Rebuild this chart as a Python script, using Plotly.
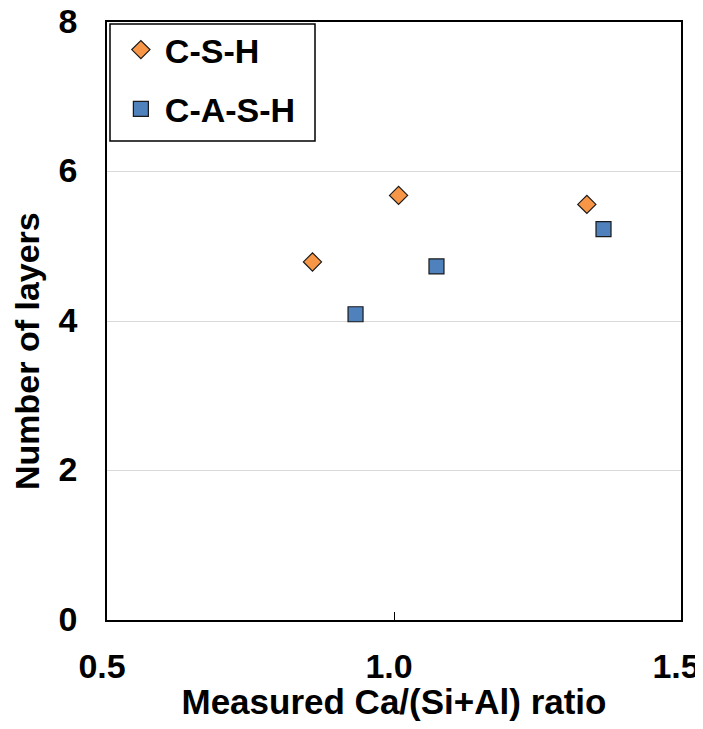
import plotly.graph_objects as go

# Data
csh_ratio = [0.858, 1.008, 1.336]
csh_layers = [4.79, 5.68, 5.56]
cash_ratio = [0.933, 1.074, 1.365]
cash_layers = [4.09, 4.73, 5.23]
series_names = ["C-S-H", "C-A-S-H"]
x_ticks = [0.5, 1.0, 1.5]
x_tick_labels = ["0.5", "1.0", "1.5"]
y_ticks = [0, 2, 4, 6, 8]
x_title = "Measured Ca/(Si+Al) ratio"
y_title = "Number of layers"

FONT = "Liberation Sans, Arial, sans-serif"

fig = go.Figure()
fig.add_trace(go.Scatter(
    x=csh_ratio, y=csh_layers, mode="markers", name=series_names[0],
    legendgroup="a",
    marker=dict(symbol="diamond", size=14, color="#F79646",
                line=dict(color="#1a1a1a", width=1.2)),
))
fig.add_trace(go.Scatter(
    x=cash_ratio, y=cash_layers, mode="markers", name=series_names[1],
    legendgroup="b",
    marker=dict(symbol="square", size=15, color="#4F81BD",
                line=dict(color="#1a1a1a", width=1.2)),
))

# page body has an 8px margin on every side, so the figure is sized to fit
# the 703x729 window without scrollbars
fig.update_layout(
    width=695, height=713,
    margin=dict(l=99, r=22, t=14, b=101, autoexpand=False),
    paper_bgcolor="white", plot_bgcolor="white",
    font=dict(family=FONT, size=34, color="black"),
    showlegend=True,
    legend=dict(
        x=0.0172, y=1.0017, xanchor="left", yanchor="top",
        bgcolor="rgba(0,0,0,0)", borderwidth=0,
        font=dict(family=FONT, size=34, color="black", weight="bold"),
        tracegroupgap=12,
        itemwidth=38,
    ),
    xaxis=dict(
        range=[0.5, 1.5], tickvals=x_ticks, ticktext=x_tick_labels,
        showgrid=False, zeroline=False, automargin=False,
        showline=True, linecolor="black", linewidth=1.5, mirror=True,
        ticks="inside", ticklen=8, tickcolor="black", tickwidth=1,
        tickfont=dict(family=FONT, size=34, color="black", weight="bold"),
        ticklabelstandoff=15, ticklabeloverflow="allow", ticklabelshift=-5,
        title=dict(text=x_title,
                   font=dict(family=FONT, size=35, color="black", weight="bold"),
                   standoff=8),
    ),
    yaxis=dict(
        range=[0, 8], tickvals=y_ticks,
        showgrid=True, gridcolor="#D9D9D9", gridwidth=1, zeroline=False,
        automargin=False,
        showline=True, linecolor="black", linewidth=1.5, mirror=True,
        ticks="",
        tickfont=dict(family=FONT, size=34, color="black", weight="bold"),
        ticklabelstandoff=21, ticklabeloverflow="allow", ticklabelshift=-1,
    ),
    shapes=[dict(
        type="rect", xref="paper", yref="paper",
        x0=(110 - 107) / 574, x1=(315 - 107) / 574,
        y0=(620 - 141) / 598, y1=(620 - 24) / 598,
        line=dict(color="black", width=1.5), fillcolor="white", layer="below",
    )],
    annotations=[dict(
        text=y_title, xref="paper", yref="paper",
        x=(27 - 107) / 574, y=(620 - 351) / 598,
        xanchor="center", yanchor="middle", textangle=-90, showarrow=False,
        font=dict(family=FONT, size=34, color="black", weight="bold"),
    )],
)

fig.write_html("out.html")
